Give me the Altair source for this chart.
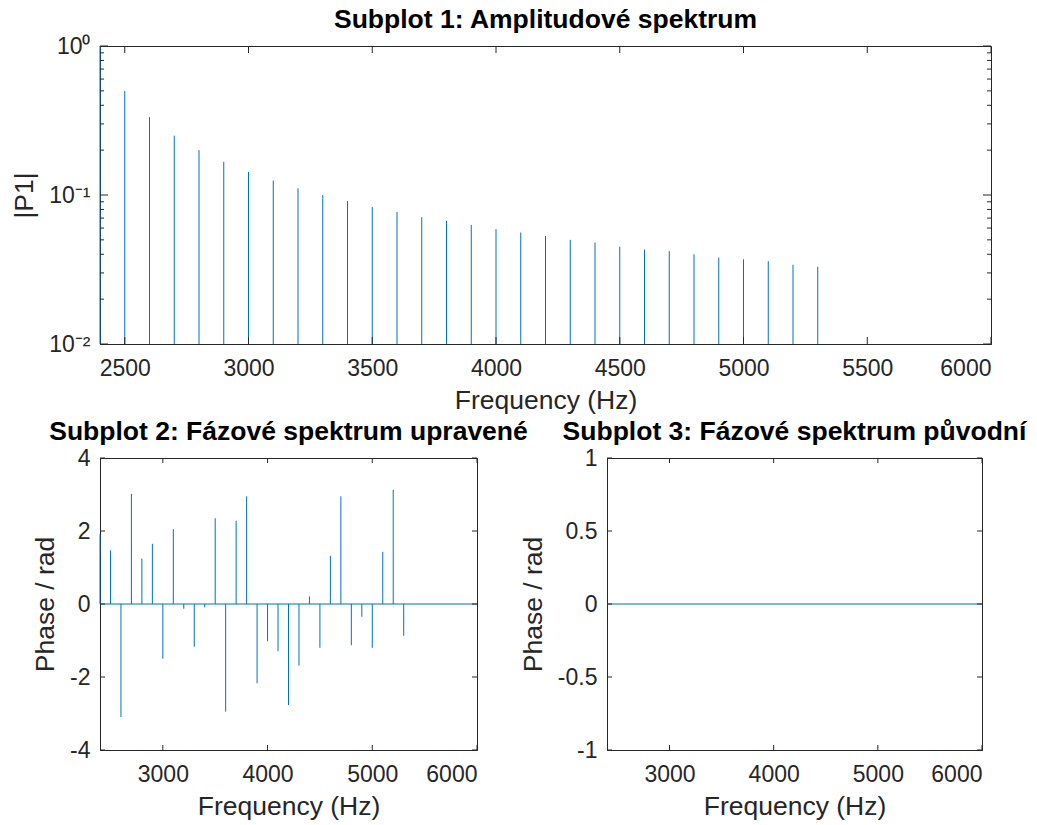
import altair as alt
import pandas as pd

# ---------------- data ----------------
freq = [2400, 2500, 2600, 2700, 2800, 2900, 3000, 3100, 3200, 3300,
        3400, 3500, 3600, 3700, 3800, 3900, 4000, 4100, 4200, 4300,
        4400, 4500, 4600, 4700, 4800, 4900, 5000, 5100, 5200, 5300]
amp = [1.0, 0.5, 0.333, 0.25, 0.2, 0.167, 0.143, 0.125, 0.111, 0.1,
       0.091, 0.083, 0.077, 0.071, 0.067, 0.063, 0.059, 0.056, 0.053, 0.05,
       0.048, 0.045, 0.043, 0.042, 0.04, 0.038, 0.037, 0.036, 0.034, 0.033]
phase_adj = [1.91, 1.47, -3.10, 3.02, 1.24, 1.65, -1.50, 2.05, -0.13, -1.17,
             -0.09, 2.35, -2.95, 2.28, 2.95, -2.17, -1.02, -1.29, -2.77, -1.69,
             0.21, -1.20, 1.32, 2.95, -1.13, -0.35, -1.20, 1.43, 3.13, -0.87]
span_freq = [2400, 6000]
span_phase_adj = [0, 0]
orig_freq = [2400, 6000]
orig_phase = [0, 0]

x_ticks_top = [2500, 3000, 3500, 4000, 4500, 5000, 5500, 6000]
x_ticks_bottom = [3000, 4000, 5000, 6000]
y_ticks_amp = [0.01, 0.1, 1]
y_minor_amp = [0.02, 0.03, 0.04, 0.05, 0.06, 0.07, 0.08, 0.09,
               0.2, 0.3, 0.4, 0.5, 0.6, 0.7, 0.8, 0.9]
y_ticks_adj = [-4, -2, 0, 2, 4]
y_ticks_orig = [-1, -0.5, 0, 0.5, 1]

titles = ["Subplot 1: Amplitudové spektrum",
          "Subplot 2: Fázové spektrum upravené",
          "Subplot 3: Fázové spektrum původní"]

# ---------------- style ----------------
BLUE = "#0072BD"
INK = "#262626"
FONT = "Liberation Sans"
LBL = "datum.value + ''"


def xtick_layers(vals, scale, axis, H, L):
    df = pd.DataFrame({"v": vals})
    b = alt.Chart(df).mark_rule(color=INK, strokeWidth=1).encode(
        x=alt.X("v:Q", scale=scale, axis=axis), y=alt.value(H), y2=alt.value(H - L))
    t = alt.Chart(df).mark_rule(color=INK, strokeWidth=1).encode(
        x=alt.X("v:Q", scale=scale, axis=axis), y=alt.value(0), y2=alt.value(L))
    return [b, t]


def ytick_layers(vals, scale, axis, W, L):
    df = pd.DataFrame({"v": vals})
    l = alt.Chart(df).mark_rule(color=INK, strokeWidth=1).encode(
        y=alt.Y("v:Q", scale=scale, axis=axis), x=alt.value(0), x2=alt.value(L))
    r = alt.Chart(df).mark_rule(color=INK, strokeWidth=1).encode(
        y=alt.Y("v:Q", scale=scale, axis=axis), x=alt.value(W - L), x2=alt.value(W))
    return [l, r]


# ---------------- subplot 1 ----------------
W1, H1 = 891, 298
xs1 = alt.Scale(domain=[2400, 6000], nice=False, zero=False)
ys1 = alt.Scale(type="log", domain=[0.01, 1], nice=False)
xa1 = alt.Axis(values=x_ticks_top, title="Frequency (Hz)", labelExpr=LBL)
log_lbl = "datum.value >= 0.5 ? '10⁰' : (datum.value >= 0.05 ? '10⁻¹' : '10⁻²')"
ya1 = alt.Axis(values=y_ticks_amp, title="|P1|", labelExpr=log_lbl)
amp_df = pd.DataFrame({"f": freq, "a": amp})

stems1 = alt.Chart(amp_df).mark_rule(color=BLUE, strokeWidth=1).encode(
    x=alt.X("f:Q", scale=xs1, axis=xa1),
    y=alt.Y("a:Q", scale=ys1, axis=ya1),
    y2=alt.datum(0.01),
)
top = alt.layer(
    stems1,
    *xtick_layers(x_ticks_top, xs1, xa1, H1, 7),
    *ytick_layers(y_ticks_amp, ys1, ya1, W1, 8),
    *ytick_layers(y_minor_amp, ys1, ya1, W1, 4),
).properties(width=W1, height=H1, title=titles[0])

# ---------------- subplot 2 ----------------
W2, H2 = 377, 292
xs2 = alt.Scale(domain=[2400, 6000], nice=False, zero=False)
ys2 = alt.Scale(domain=[-4, 4], nice=False, zero=False)
xa2 = alt.Axis(values=x_ticks_bottom, title="Frequency (Hz)", labelExpr=LBL)
ya2 = alt.Axis(values=y_ticks_adj, title="Phase / rad", labelExpr=LBL)
adj_df = pd.DataFrame({"f": freq, "p": phase_adj})
span_df = pd.DataFrame({"f": span_freq, "p": span_phase_adj})

stems2 = alt.Chart(adj_df).mark_rule(color=BLUE, strokeWidth=1).encode(
    x=alt.X("f:Q", scale=xs2, axis=xa2),
    y=alt.Y("p:Q", scale=ys2, axis=ya2),
    y2=alt.datum(0),
)
base2 = alt.Chart(span_df).mark_line(color=BLUE, strokeWidth=1.2).encode(
    x=alt.X("f:Q", scale=xs2, axis=xa2), y=alt.Y("p:Q", scale=ys2, axis=ya2))
left = alt.layer(
    base2, stems2,
    *xtick_layers(x_ticks_bottom, xs2, xa2, H2, 5),
    *ytick_layers(y_ticks_adj, ys2, ya2, W2, 5),
).properties(width=W2, height=H2, title=titles[1])

# ---------------- subplot 3 ----------------
W3, H3 = 375, 292
xs3 = alt.Scale(domain=[2400, 6000], nice=False, zero=False)
ys3 = alt.Scale(domain=[-1, 1], nice=False, zero=False)
xa3 = alt.Axis(values=x_ticks_bottom, title="Frequency (Hz)", labelExpr=LBL)
ya3 = alt.Axis(values=y_ticks_orig, title="Phase / rad", labelExpr=LBL)
orig_df = pd.DataFrame({"f": orig_freq, "p": orig_phase})

line3 = alt.Chart(orig_df).mark_line(color=BLUE, strokeWidth=1.2).encode(
    x=alt.X("f:Q", scale=xs3, axis=xa3),
    y=alt.Y("p:Q", scale=ys3, axis=ya3),
)
right = alt.layer(
    line3,
    *xtick_layers(x_ticks_bottom, xs3, xa3, H3, 5),
    *ytick_layers(y_ticks_orig, ys3, ya3, W3, 5),
).properties(width=W3, height=H3, title=titles[2])

bottom = alt.hconcat(left, right, spacing=130, bounds="flush")

chart = alt.vconcat(top, bottom, spacing=114, bounds="flush").properties(
    padding={"left": 11, "top": 6, "right": 5, "bottom": 5},
    background="white",
).configure_axis(
    labelFont=FONT, titleFont=FONT, labelFontSize=23, titleFontSize=26.5,
    labelColor=INK, titleColor=INK, domainColor=INK, domainWidth=1,
    grid=False, ticks=False, titleFontWeight="normal",
).configure_axisX(
    labelPadding=13, titlePadding=7,
).configure_axisY(
    labelPadding=10, titlePadding=10,
).configure_view(
    stroke=INK, strokeWidth=1,
).configure_title(
    font=FONT, fontSize=26.5, fontWeight="bold", color="black",
    frame="group", anchor="middle", offset=2,
)

chart.save("out.html", embed_options={"renderer": "svg", "actions": False})
